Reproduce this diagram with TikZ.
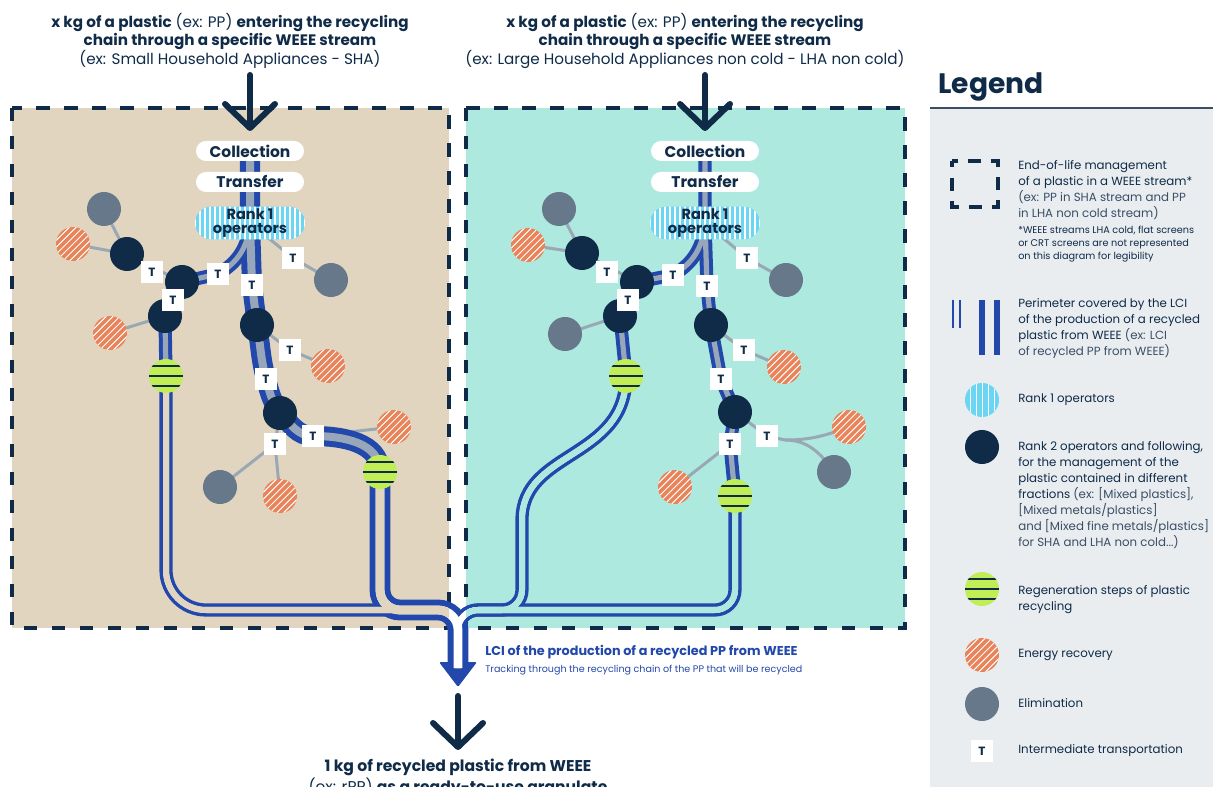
\documentclass[tikz,border=0pt]{standalone}
\usepackage{fontspec}
\setmainfont{Poppins}
\usepackage{xcolor}
\usepackage{tikz}
\usetikzlibrary{arrows.meta, calc}

\definecolor{navy}{HTML}{0F2B48}
\definecolor{softnavy}{HTML}{3A4E66}
\definecolor{pipeblue}{HTML}{2248AC}
\definecolor{pipegrey}{HTML}{97A6B8}
\definecolor{linkgrey}{HTML}{9AA7B4}
\definecolor{sand}{HTML}{E1D5C0}
\definecolor{mint}{HTML}{AEE9DF}
\definecolor{legendbg}{HTML}{E9EDF0}
\definecolor{ecorange}{HTML}{E8835A}
\definecolor{elimgrey}{HTML}{66788A}
\definecolor{regengreen}{HTML}{C2EE55}
\definecolor{rankblue}{HTML}{6AD6F4}

\pgfdeclarelayer{panel}
\pgfdeclarelayer{edge}
\pgfsetlayers{panel,edge,main}

\tikzstyle{heading} = [align=center, text=navy, inner sep=0pt, font=\fontsize{10.8}{12.6}\selectfont]
\tikzstyle{stage} = [fill=white, rounded corners=0.25cm, minimum width=2.7cm, minimum height=0.5cm, inner sep=0pt, text=navy, font=\bfseries\fontsize{11}{11}\selectfont]
\tikzstyle{rankone} = [fill=rankblue, rounded corners=0.41cm, minimum width=2.75cm, minimum height=0.82cm, inner sep=0pt, align=center, text=navy, font=\bfseries\fontsize{10.4}{9.6}\selectfont, path picture={\foreach \k in {-11,...,11} \draw[white, line width=0.8pt] ($(path picture bounding box.center)+(\k*0.125cm,-0.5cm)$) -- ++(0,1cm);}]
\tikzstyle{rankdot} = [circle, fill=rankblue, minimum size=0.85cm, inner sep=0pt, path picture={\foreach \k in {-3,...,3} \draw[white, line width=0.7pt] ($(path picture bounding box.center)+(\k*0.15cm,-0.5cm)$) -- ++(0,1cm);}]
\tikzstyle{rank2} = [circle, fill=navy, minimum size=0.85cm, inner sep=0pt]
\tikzstyle{elim} = [circle, fill=elimgrey, minimum size=0.85cm, inner sep=0pt]
\tikzstyle{energy} = [circle, fill=ecorange, minimum size=0.85cm, inner sep=0pt, path picture={\foreach \k in {-6,...,6} \draw[white, line width=0.7pt] ($(path picture bounding box.center)+(\k*0.17cm-0.5cm,-0.5cm)$) -- ++(1cm,1cm);}]
\tikzstyle{regen} = [circle, fill=regengreen, minimum size=0.85cm, inner sep=0pt, path picture={\foreach \k in {-1,0,1} \draw[navy, line width=1.6pt] ($(path picture bounding box.center)+(-0.5cm,\k*0.25cm)$) -- ++(1cm,0);}]
\tikzstyle{transport} = [fill=white, minimum size=0.56cm, inner sep=0pt, text=navy, font=\bfseries\fontsize{8.5}{8.5}\selectfont]
\tikzstyle{link} = [draw=linkgrey, line width=0.075cm]
\tikzstyle{wallwide} = [pipeblue, line width=0.5cm]
\tikzstyle{corewide} = [pipegrey, line width=0.2cm]
\tikzstyle{wallslim} = [pipeblue, line width=0.33cm]
\tikzstyle{coreslim} = [pipegrey, line width=0.13cm]
\tikzstyle{railwide} = [line width=0.52cm]
\tikzstyle{railwidecore} = [line width=0.22cm]
\tikzstyle{railslim} = [line width=0.33cm]
\tikzstyle{railslimcore} = [line width=0.15cm]
\tikzstyle{frame} = [navy, line width=0.09cm, dash pattern=on 0.33cm off 0.37cm]
\tikzstyle{drop} = [navy, line width=0.15cm, line cap=round, -{Straight Barb[length=0.6cm, width=1.25cm, round]}]
\tikzstyle{keytext} = [anchor=north west, align=left, inner sep=0pt, text=navy, font=\fontsize{8.4}{11.4}\selectfont]
\tikzstyle{keynote} = [anchor=north west, align=left, inner sep=0pt, text=navy, font=\fontsize{6.9}{9.2}\selectfont]

% pipe paths, drawn twice (wall, then core)
\newcommand{\pipeLmain}{(collL.center) -- (transL.center) -- (rank1L.center) -- (tL4.center) -- (nL4.center) to[out=-80, in=105] (tL7.center) to[out=-75, in=125] (nL5.center) to[out=-45, in=180] (tL8.center) to[out=0, in=90] (gnL2.center)}
\newcommand{\pipeLside}{(rank1L.center) to[out=-95, in=30] (tL2.center) -- (nL2.center) -- (tL3.center) -- (nL3.center) -- (gnL1.center)}
\newcommand{\pipeRmain}{(collR.center) -- (transR.center) -- (rank1R.center) -- (tR4.center) -- (nR4.center) -- (tR7.center) -- (nR5.center) -- (tR9.center) -- (gnR2.center)}
\newcommand{\pipeRside}{(rank1R.center) to[out=-95, in=30] (tR2.center) -- (nR2.center) -- (tR3.center) -- (nR3.center) -- (gnR1.center)}
% rails after regeneration
\newcommand{\railLA}{[rounded corners=1cm] (gnL1.center) -- (166,-610) -- (398,-610)}
\newcommand{\railLB}{[rounded corners=0.5cm] (gnL2.center) -- (380,-610) -- (junc) -- (stemB)}
\newcommand{\railRA}{[rounded corners=0.5cm] (gnR1.center) .. controls (626,-460) and (522,-450) .. (522,-540) -- (522,-610) -- (junc) -- (stemB)}
\newcommand{\railRB}{[rounded corners=0.5cm] (gnR2.center) -- (735,-610) -- (junc) -- (stemB)}

\begin{document}
\begin{tikzpicture}[x=0.025cm, y=0.025cm]
\useasboundingbox (0,0) rectangle (1213,-787);

% Headings
\node[heading, anchor=north] (headL) at (230,-13) {\textbf{x kg of a plastic} (ex: PP) \textbf{entering the recycling}\\\textbf{chain through a specific WEEE stream}\\(ex: Small Household Appliances - SHA)};
\node[heading, anchor=north] (headR) at (685,-13) {\textbf{x kg of a plastic} (ex: PP) \textbf{entering the recycling}\\\textbf{chain through a specific WEEE stream}\\(ex: Large Household Appliances non cold - LHA non cold)};

\coordinate (startL) at (250,-75);
\coordinate (tipL) at (250,-131);
\coordinate (startR) at (705,-75);
\coordinate (tipR) at (705,-131);
\draw[drop] (startL) -- (tipL);
\draw[drop] (startR) -- (tipR);

% Left stream (SHA)
\node[stage] (collL) at (250,-151) {Collection};
\node[stage] (transL) at (250,-182) {Transfer};
\node[rankone] (rank1L) at (250,-223) {Rank 1\\operators};
\node[elim] (gL1) at (104,-209) {};
\node[energy] (oL1) at (73,-244) {};
\node[rank2] (nL1) at (127,-254) {};
\node[rank2] (nL2) at (182,-282) {};
\node[rank2] (nL3) at (165,-316) {};
\node[energy] (oL2) at (110,-333) {};
\node[regen] (gnL1) at (166,-376) {};
\node[elim] (gL2) at (331,-280) {};
\node[rank2] (nL4) at (257,-325) {};
\node[energy] (oL3) at (328,-366) {};
\node[rank2] (nL5) at (280,-413) {};
\node[energy] (oL4) at (394,-427) {};
\node[regen] (gnL2) at (380,-472) {};
\node[elim] (gL3) at (220,-487) {};
\node[energy] (oL5) at (280,-496) {};
\node[transport] (tL1) at (152,-272) {T};
\node[transport] (tL2) at (218,-274) {T};
\node[transport] (tL3) at (173,-300) {T};
\node[transport] (tL4) at (252,-285) {T};
\node[transport] (tL5) at (293,-258) {T};
\node[transport] (tL6) at (290,-350) {T};
\node[transport] (tL7) at (266,-379) {T};
\node[transport] (tL8) at (313,-436) {T};
\node[transport] (tL9) at (275,-444) {T};

% Right stream (LHA non cold)
\node[stage] (collR) at (705,-151) {Collection};
\node[stage] (transR) at (705,-182) {Transfer};
\node[rankone] (rank1R) at (705,-223) {Rank 1\\operators};
\node[elim] (gR1) at (559,-209) {};
\node[energy] (oR1) at (528,-245) {};
\node[rank2] (nR1) at (582,-253) {};
\node[rank2] (nR2) at (637,-282) {};
\node[rank2] (nR3) at (620,-316) {};
\node[elim] (gR2) at (565,-334) {};
\node[regen] (gnR1) at (626,-376) {};
\node[elim] (gR3) at (786,-280) {};
\node[rank2] (nR4) at (711,-325) {};
\node[energy] (oR2) at (784,-367) {};
\node[rank2] (nR5) at (735,-412) {};
\node[energy] (oR3) at (849,-427) {};
\node[elim] (gR4) at (834,-472) {};
\node[energy] (oR4) at (675,-487) {};
\node[regen] (gnR2) at (735,-496) {};
\node[transport] (tR1) at (607,-272) {T};
\node[transport] (tR2) at (673,-275) {T};
\node[transport] (tR3) at (628,-300) {T};
\node[transport] (tR4) at (707,-286) {T};
\node[transport] (tR5) at (747,-258) {T};
\node[transport] (tR6) at (744,-350) {T};
\node[transport] (tR7) at (721,-379) {T};
\node[transport] (tR8) at (767,-436) {T};
\node[transport] (tR9) at (730,-444) {T};
\coordinate (sR) at (785,-440);

% Output
\coordinate (junc) at (458,-610);
\coordinate (stemB) at (458,-668);
\coordinate (tipB) at (458,-687);
\node[anchor=base west, inner sep=0pt, text=pipeblue, font=\bfseries\fontsize{9.1}{10}\selectfont] (lci) at (485,-655) {LCI of the production of a recycled PP from WEEE};
\node[anchor=base west, inner sep=0pt, text=pipeblue, font=\fontsize{6.8}{8}\selectfont] (track) at (485,-672) {Tracking through the recycling chain of the PP that will be recycled};
\coordinate (startB) at (458,-696);
\coordinate (endB) at (458,-750);
\draw[drop] (startB) -- (endB);
\node[heading, anchor=north, font=\fontsize{11.1}{12.4}\selectfont] (foot) at (458,-759) {\textbf{1 kg of recycled plastic from WEEE}\\(ex: rPP) \textbf{as a ready-to-use granulate}};

% Legend
\node[anchor=west, inner sep=0pt, text=navy, font=\bfseries\fontsize{20}{24}\selectfont] (legtitle) at (938,-87) {Legend};
\draw[navy, line width=0.08cm, dash pattern=on 0.325cm off 0.25cm, dash phase=0.1625cm] (952,-161) rectangle (998,-207);
\node[keytext] (key1) at (1018,-160) {End-of-life management\\of a plastic in a WEEE stream*\\\textcolor{softnavy}{(ex: PP in SHA stream and PP}\\\textcolor{softnavy}{in LHA non cold stream)}};
\node[keynote] (note1) at (1018,-226) {*WEEE streams LHA cold, flat screens\\or CRT screens are not represented\\on this diagram for legibility};
\draw[pipeblue, line width=0.07cm] (953,-300) -- (953,-328);
\draw[pipeblue, line width=0.07cm] (960,-300) -- (960,-328);
\draw[pipeblue, line width=0.17cm] (982,-300) -- (982,-355);
\draw[pipeblue, line width=0.17cm] (997,-300) -- (997,-355);
\node[keytext] (key2) at (1018,-298) {Perimeter covered by the LCI\\of the production of a recycled\\plastic from WEEE \textcolor{softnavy}{(ex: LCI}\\\textcolor{softnavy}{of recycled PP from WEEE)}};
\node[rankdot] (dot1) at (982,-400) {};
\node[keytext, anchor=west] (key3) at (1018,-400) {Rank 1 operators};
\node[rank2] (dot2) at (982,-447) {};
\node[keytext] (key4) at (1018,-441) {Rank 2 operators and following,\\for the management of the\\plastic contained in different\\fractions \textcolor{softnavy}{(ex: [Mixed plastics],}\\\textcolor{softnavy}{[Mixed metals/plastics]}\\\textcolor{softnavy}{and [Mixed fine metals/plastics]}\\\textcolor{softnavy}{for SHA and LHA non cold...)}};
\node[regen] (dot3) at (982,-589) {};
\node[keytext] (key5) at (1018,-585) {Regeneration steps of plastic\\recycling};
\node[energy] (dot4) at (982,-655) {};
\node[keytext, anchor=west] (key6) at (1018,-655) {Energy recovery};
\node[elim] (dot5) at (982,-704) {};
\node[keytext, anchor=west] (key7) at (1018,-703) {Elimination};
\node[transport] (dot6) at (982,-751) {T};
\node[keytext, anchor=west] (key8) at (1018,-751) {Intermediate transportation};

\begin{pgfonlayer}{panel}
\fill[white] (0,0) rectangle (1213,-787);
\fill[sand] (12,-108) rectangle (449,-628);
\fill[mint] (466,-108) rectangle (905,-628);
\draw[frame] (12,-108) rectangle (449,-628);
\draw[frame] (466,-108) rectangle (905,-628);
\fill[legendbg] (930,-108) rectangle (1213,-787);
\draw[softnavy, line width=0.04cm] (930,-108) -- (1213,-108);
\end{pgfonlayer}

\begin{pgfonlayer}{edge}
% Side links
\draw[link] (nL1.center) -- (gL1.center);
\draw[link] (nL1.center) -- (oL1.center);
\draw[link] (nL1.center) -- (nL2.center);
\draw[link] (nL3.center) -- (oL2.center);
\draw[link] (rank1L.center) -- (tL5.center) -- (gL2.center);
\draw[link] (nL4.center) -- (tL6.center) -- (oL3.center);
\draw[link] (nL5.center) -- (tL9.center) -- (gL3.center);
\draw[link] (tL9.center) -- (oL5.center);
\draw[link] (tL8.center) -- (oL4.center);
\draw[link] (nR1.center) -- (gR1.center);
\draw[link] (nR1.center) -- (oR1.center);
\draw[link] (nR1.center) -- (nR2.center);
\draw[link] (nR3.center) -- (gR2.center);
\draw[link] (rank1R.center) -- (tR5.center) -- (gR3.center);
\draw[link] (nR4.center) -- (tR6.center) -- (oR2.center);
\draw[link] (nR5.center) -- (tR8.center) -- (sR);
\draw[link] (sR) to[out=0, in=200] (oR3.center);
\draw[link] (sR) to[out=0, in=125] (gR4.center);
\draw[link] (tR9.center) -- (oR4.center);

% Pipes up to regeneration
\draw[wallwide] \pipeLmain;
\draw[wallslim] \pipeLside;
\draw[wallslim] \pipeRmain;
\draw[wallslim] \pipeRside;
\draw[corewide] \pipeLmain;
\draw[coreslim] \pipeLside;
\draw[coreslim] \pipeRmain;
\draw[coreslim] \pipeRside;

% Rails to the recycled granulate
\draw[railslim, pipeblue] \railLA;
\draw[railwide, pipeblue] \railLB;
\draw[railslim, pipeblue] \railRA;
\draw[railslim, pipeblue] \railRB;
\fill[pipeblue, rounded corners=1pt] (439,-662) -- (477,-662) -- (tipB) -- cycle;
\draw[railslimcore, white] \railLA;
\draw[railwidecore, white] \railLB;
\draw[railslimcore, white] \railRA;
\draw[railslimcore, white] \railRB;
\begin{scope}
\clip (12,-108) rectangle (449,-628);
\draw[railslimcore, sand] \railLA;
\draw[railwidecore, sand] \railLB;
\end{scope}
\begin{scope}
\clip (466,-108) rectangle (905,-628);
\draw[railslimcore, mint] \railRA;
\draw[railslimcore, mint] \railRB;
\end{scope}
\end{pgfonlayer}

\end{tikzpicture}
\end{document}
